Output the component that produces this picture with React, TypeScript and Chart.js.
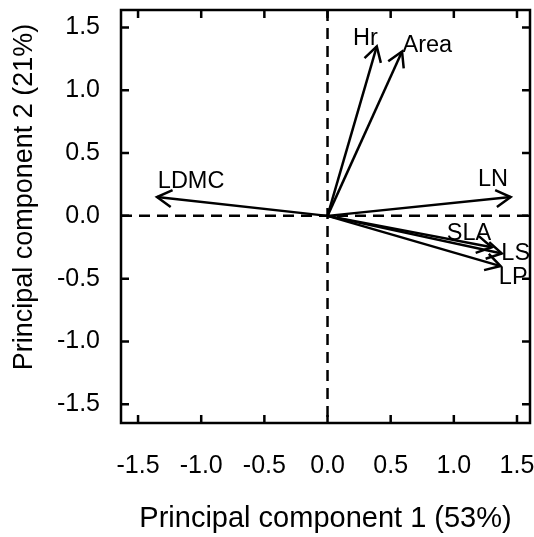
import React, { useEffect, useRef } from "react";
import { Chart, registerables } from "chart.js";

Chart.register(...registerables);

const variables = ["Hr", "Area", "LN", "LDMC", "SLA", "LS", "LP"];
const pc1 = [0.39, 0.59, 1.45, -1.35, 1.3, 1.38, 1.37];
const pc2 = [1.35, 1.31, 0.15, 0.15, -0.25, -0.3, -0.4];
const labelX = [0.3, 0.79, 1.31, -1.08, 1.12, 1.49, 1.47];
const labelY = [1.41, 1.36, 0.29, 0.27, -0.14, -0.3, -0.49];
const tickValues = [-1.5, -1.0, -0.5, 0.0, 0.5, 1.0, 1.5];
const xTitle = "Principal component 1 (53%)";
const yTitle = "Principal component 2 (21%)";

const FONT = "'Liberation Sans', Arial, sans-serif";
const LW = 2.5;

const biplotPlugin = {
  id: "biplot",
  beforeDatasetsDraw(chart: any) {
    const { ctx, chartArea, scales } = chart;
    const xs = scales.x;
    const ys = scales.y;
    ctx.save();
    ctx.strokeStyle = "#000";
    ctx.lineWidth = LW;
    ctx.setLineDash([11, 7]);
    const x0 = xs.getPixelForValue(0);
    const y0 = ys.getPixelForValue(0);
    ctx.beginPath();
    ctx.moveTo(chartArea.left, y0);
    ctx.lineTo(chartArea.right, y0);
    ctx.moveTo(x0, chartArea.top);
    ctx.lineTo(x0, chartArea.bottom);
    ctx.stroke();
    ctx.restore();
  },
  afterDatasetsDraw(chart: any) {
    const { ctx, chartArea, scales } = chart;
    const xs = scales.x;
    const ys = scales.y;
    ctx.save();
    ctx.strokeStyle = "#000";
    ctx.fillStyle = "#000";
    ctx.lineWidth = LW;
    ctx.setLineDash([]);
    // arrowheads
    const headLen = 17;
    const headAng = Math.PI / 6;
    variables.forEach((_, i) => {
      const ox = xs.getPixelForValue(0);
      const oy = ys.getPixelForValue(0);
      const tx = xs.getPixelForValue(pc1[i]);
      const ty = ys.getPixelForValue(pc2[i]);
      const ang = Math.atan2(ty - oy, tx - ox);
      ctx.beginPath();
      ctx.moveTo(tx - headLen * Math.cos(ang - headAng), ty - headLen * Math.sin(ang - headAng));
      ctx.lineTo(tx, ty);
      ctx.lineTo(tx - headLen * Math.cos(ang + headAng), ty - headLen * Math.sin(ang + headAng));
      ctx.stroke();
    });
    // labels
    ctx.font = `23.5px ${FONT}`;
    ctx.textAlign = "center";
    ctx.textBaseline = "middle";
    variables.forEach((v, i) => {
      ctx.fillText(v, xs.getPixelForValue(labelX[i]), ys.getPixelForValue(labelY[i]));
    });
    // box
    ctx.lineWidth = LW;
    ctx.strokeRect(chartArea.left, chartArea.top, chartArea.right - chartArea.left, chartArea.bottom - chartArea.top);
    // inward ticks
    const tl = 8;
    ctx.beginPath();
    tickValues.forEach((v) => {
      const px = xs.getPixelForValue(v);
      ctx.moveTo(px, chartArea.bottom);
      ctx.lineTo(px, chartArea.bottom - tl);
      ctx.moveTo(px, chartArea.top);
      ctx.lineTo(px, chartArea.top + tl);
      const py = ys.getPixelForValue(v);
      ctx.moveTo(chartArea.left, py);
      ctx.lineTo(chartArea.left + tl, py);
      ctx.moveTo(chartArea.right, py);
      ctx.lineTo(chartArea.right - tl, py);
    });
    ctx.stroke();
    // y title
    ctx.save();
    ctx.translate(25, 197);
    ctx.rotate(-Math.PI / 2);
    ctx.font = `27px ${FONT}`;
    ctx.fillText(yTitle, 0, 0);
    ctx.restore();
    ctx.restore();
  },
};

export default function App() {
  const ref = useRef<HTMLCanvasElement | null>(null);
  useEffect(() => {
    if (!ref.current) return;
    const datasets = variables.map((v, i) => ({
      label: v,
      data: [
        { x: 0, y: 0 },
        { x: pc1[i], y: pc2[i] },
      ],
      borderColor: "#000",
      borderWidth: LW,
      pointRadius: 0,
      showLine: true,
      fill: false,
    }));
    const chart = new Chart(ref.current, {
      type: "scatter",
      data: { datasets },
      plugins: [biplotPlugin],
      options: {
        animation: false,
        responsive: false,
        maintainAspectRatio: false,
        layout: { padding: { top: 10, right: 4, left: 0, bottom: 0 } },
        plugins: { legend: { display: false }, tooltip: { enabled: false } },
        scales: {
          x: {
            type: "linear",
            min: -1.635,
            max: 1.603,
            border: { display: false },
            grid: { display: false, drawTicks: false },
            afterBuildTicks: (s: any) => {
              s.ticks = tickValues.map((v) => ({ value: v }));
            },
            afterFit: (s: any) => {
              s.height = 114;
              s.paddingLeft = 0;
              s.paddingRight = 0;
              s.paddingTop = 0;
              s.paddingBottom = 0;
            },
            ticks: {
              color: "#000",
              padding: 28,
              autoSkip: false,
              maxRotation: 0,
              font: { family: FONT, size: 25 },
              callback: (v: any) => Number(v).toFixed(1),
            },
            title: {
              display: true,
              text: xTitle,
              color: "#000",
              font: { family: FONT, size: 29 },
              padding: { top: 0, bottom: 1 },
            },
          },
          y: {
            type: "linear",
            min: -1.65,
            max: 1.64,
            border: { display: false },
            grid: { display: false, drawTicks: false },
            afterBuildTicks: (s: any) => {
              s.ticks = tickValues.map((v) => ({ value: v }));
            },
            afterFit: (s: any) => {
              s.width = 121;
              s.paddingLeft = 0;
              s.paddingRight = 0;
              s.paddingTop = 0;
              s.paddingBottom = 0;
            },
            ticks: {
              color: "#000",
              padding: 21,
              autoSkip: false,
              font: { family: FONT, size: 25 },
              callback: (v: any) => Number(v).toFixed(1),
            },
          },
        },
      },
    } as any);
    return () => chart.destroy();
  }, []);
  return (
    <div style={{ position: "fixed", left: 0, top: 0, width: 534, height: 537, background: "#fff" }}>
      <canvas ref={ref} width={534} height={537} style={{ width: 534, height: 537, display: "block" }} />
    </div>
  );
}
